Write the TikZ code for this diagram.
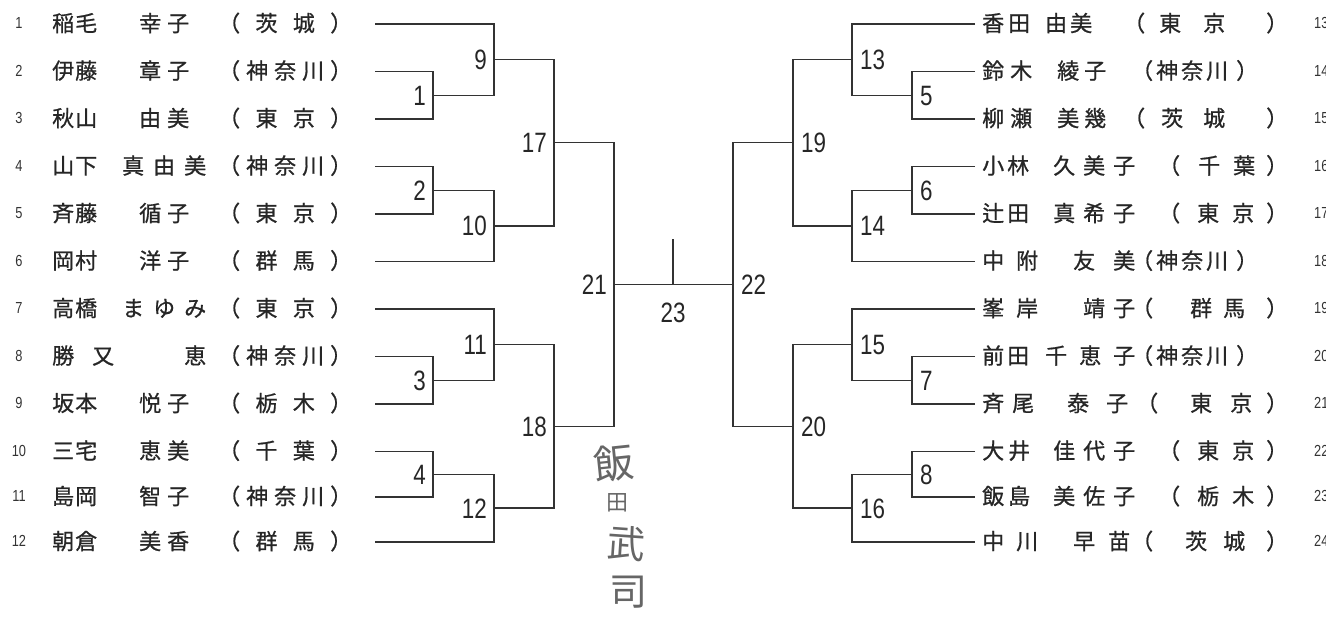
\documentclass[tikz,border=0pt]{standalone}
\usepackage{fontspec}
\setmainfont{Liberation Sans}
\newfontfamily\jpfont[FakeBold=0.8]{Noto Sans CJK JP}
\newfontfamily\signfont{Noto Sans CJK JP}
\newfontfamily\numfont[FakeStretch=0.8]{Liberation Sans}
\usepackage{tikz}
\usetikzlibrary{calc}

% name fields: surname, given name, prefecture
\newcommand\lname[3]{\makebox[45pt][s]{#1}\kern25pt\makebox[84pt][s]{#2}\kern12pt\makebox[134pt][s]{#3}}
\newcommand\rname[3]{\makebox[56pt][s]{#1}\kern7pt\makebox[90pt][s]{#2}\kern-12pt\makebox[165pt][s]{#3}}

\begin{document}
\begin{tikzpicture}[
  x=1pt, y=-1pt,
  bracket/.style={line width=1.3pt, black!80},
  entry/.style={anchor=west, inner sep=0pt, text height=19.4pt, text depth=2.6pt,
    font=\jpfont\fontsize{22pt}{22pt}\selectfont, text=black!85},
  seed/.style={inner sep=0pt, text height=11.5pt, text depth=0pt,
    font=\numfont\fontsize{16pt}{16pt}\selectfont, text=black!80},
  rnd/.style={inner sep=0pt, text height=20pt, text depth=0pt,
    font=\numfont\fontsize{28pt}{28pt}\selectfont, text=black!85},
  sign/.style={inner sep=0pt, text=black!60}
]
\useasboundingbox (0,0) rectangle (1326,620);

% Entry line ends
\foreach \i/\y in {1/24, 2/71.5, 3/119, 4/166.5, 5/214, 6/261.5, 7/309, 8/356.5, 9/404, 10/451.5, 11/497, 12/542} {
  \coordinate (L\i) at (375,\y);
  \node[seed] (s\i) at (19,\y-1) {\i};
}
\foreach \i/\y in {13/24, 14/71.5, 15/119, 16/166.5, 17/214, 18/261.5, 19/309, 20/356.5, 21/404, 22/451.5, 23/497, 24/542} {
  \coordinate (R\i) at (975,\y);
  \node[seed, anchor=west] (s\i) at (1314,\y-1) {\i};
}

% Left entries
\node[entry] (n1) at (52,23) {\lname{稲\hfil 毛}{\hfil 幸\kern6pt 子\hfil}{（\hfil 茨\hfil 城\hfil ）}};
\node[entry] (n2) at (52,70.5) {\lname{伊\hfil 藤}{\hfil 章\kern6pt 子\hfil}{（\hfil 神\hfil 奈\hfil 川\hfil ）}};
\node[entry] (n3) at (52,118) {\lname{秋\hfil 山}{\hfil 由\kern6pt 美\hfil}{（\hfil 東\hfil 京\hfil ）}};
\node[entry] (n4) at (52,165.5) {\lname{山\hfil 下}{真\hfil 由\hfil 美}{（\hfil 神\hfil 奈\hfil 川\hfil ）}};
\node[entry] (n5) at (52,213) {\lname{斉\hfil 藤}{\hfil 循\kern6pt 子\hfil}{（\hfil 東\hfil 京\hfil ）}};
\node[entry] (n6) at (52,260.5) {\lname{岡\hfil 村}{\hfil 洋\kern6pt 子\hfil}{（\hfil 群\hfil 馬\hfil ）}};
\node[entry] (n7) at (52,308) {\lname{高\hfil 橋}{ま\hfil ゆ\hfil み}{（\hfil 東\hfil 京\hfil ）}};
\node[entry] (n8) at (52,355.5) {\lname{勝\hfil 又\kern-17pt}{\hfil 恵}{（\hfil 神\hfil 奈\hfil 川\hfil ）}};
\node[entry] (n9) at (52,403) {\lname{坂\hfil 本}{\hfil 悦\kern6pt 子\hfil}{（\hfil 栃\hfil 木\hfil ）}};
\node[entry] (n10) at (52,450.5) {\lname{三\hfil 宅}{\hfil 恵\kern6pt 美\hfil}{（\hfil 千\hfil 葉\hfil ）}};
\node[entry] (n11) at (52,496) {\lname{島\hfil 岡}{\hfil 智\kern6pt 子\hfil}{（\hfil 神\hfil 奈\hfil 川\hfil ）}};
\node[entry] (n12) at (52,541) {\lname{朝\hfil 倉}{\hfil 美\kern6pt 香\hfil}{（\hfil 群\hfil 馬\hfil ）}};

% Right entries
\node[entry] (n13) at (982,23) {\rname{香\kern4pt 田\hfil}{由\kern3pt 美\hfil}{（\kern14pt 東\kern22pt 京\hfil ）}};
\node[entry] (n14) at (982,70.5) {\rname{鈴\kern6pt 木\hfil}{\kern12pt 綾\kern5pt 子\hfil}{\kern8pt（\kern3pt 神\kern3pt 奈\kern3pt 川\kern8pt ）\hfil}};
\node[entry] (n15) at (982,118) {\rname{柳\kern6pt 瀬\hfil}{\kern12pt 美\kern5pt 幾\hfil}{（\kern16pt 茨\kern20pt 城\hfil ）}};
\node[entry] (n16) at (982,165.5) {\rname{小\kern3pt 林\hfil}{\kern8pt 久\hfil 美\hfil 子}{\kern35pt（\kern18pt 千\kern13pt 葉\hfil ）}};
\node[entry] (n17) at (982,213) {\rname{辻\kern3pt 田\hfil}{\kern8pt 真\hfil 希\hfil 子}{\kern35pt（\kern17pt 東\kern13pt 京\hfil ）}};
\node[entry] (n18) at (982,260.5) {\rname{中\hfil 附}{\kern28pt 友\hfil 美}{\kern8pt（\kern3pt 神\kern3pt 奈\kern3pt 川\kern8pt ）\hfil}};
\node[entry] (n19) at (982,308) {\rname{峯\hfil 岸}{\hfil 靖\kern8pt 子}{\kern8pt（\kern37pt 群\kern11pt 馬\hfil ）}};
\node[entry] (n20) at (982,355.5) {\rname{前\kern3pt 田\hfil}{千\hfil 恵\hfil 子}{\kern8pt（\kern3pt 神\kern3pt 奈\kern3pt 川\kern8pt ）\hfil}};
\node[entry] (n21) at (982,403) {\rname{斉\kern8pt 尾\hfil}{\kern22pt 泰\hfil 子\kern7pt}{\kern13pt（\kern32pt 東\kern18pt 京\hfil ）}};
\node[entry] (n22) at (982,450.5) {\rname{大\kern4pt 井\hfil}{\kern8pt 佳\hfil 代\hfil 子}{\kern35pt（\kern17pt 東\kern13pt 京\hfil ）}};
\node[entry] (n23) at (982,496) {\rname{飯\kern4pt 島\hfil}{\kern8pt 美\hfil 佐\hfil 子}{\kern35pt（\kern17pt 栃\kern13pt 木\hfil ）}};
\node[entry] (n24) at (982,541) {\rname{中\hfil 川}{\kern28pt 早\hfil 苗\kern5pt}{\kern8pt（\kern32pt 茨\kern16pt 城\hfil ）}};

% Match points
\coordinate (m1) at (433,95.25);
\coordinate (m2) at (433,190.25);
\coordinate (m3) at (433,380.25);
\coordinate (m4) at (433,474.25);
\coordinate (m9) at (494,59.6);
\coordinate (m10) at (494,225.9);
\coordinate (m11) at (494,344.6);
\coordinate (m12) at (494,508.1);
\coordinate (m17) at (554,142.8);
\coordinate (m18) at (554,426.4);
\coordinate (m21) at (614,284.6);
\coordinate (m5) at (912,95.25);
\coordinate (m6) at (912,190.25);
\coordinate (m7) at (912,380.25);
\coordinate (m8) at (912,474.25);
\coordinate (m13) at (852,59.6);
\coordinate (m14) at (852,225.9);
\coordinate (m15) at (852,344.6);
\coordinate (m16) at (852,508.1);
\coordinate (m19) at (793,142.8);
\coordinate (m20) at (793,426.4);
\coordinate (m22) at (733,284.6);
\coordinate (m23) at (673,284.6);
\coordinate (top) at (673,239);

% Brackets
\foreach \m/\a/\b in {m1/L2/L3, m2/L4/L5, m3/L8/L9, m4/L10/L11, m9/L1/m1, m10/m2/L6,
    m11/L7/m3, m12/m4/L12, m17/m9/m10, m18/m11/m12, m21/m17/m18,
    m5/R14/R15, m6/R16/R17, m7/R20/R21, m8/R22/R23, m13/R13/m5, m14/m6/R18,
    m15/R19/m7, m16/m8/R24, m19/m13/m14, m20/m15/m16, m22/m19/m20}
  \draw[bracket] (\a) -| (\m) |- (\b);
\draw[bracket] (m21) -- (m22);
\draw[bracket] (m23) -- (top);

% Match numbers
\foreach \m/\t in {m1/1, m2/2, m3/3, m4/4, m9/9, m10/10, m11/11, m12/12, m17/17, m18/18, m21/21}
  \node[rnd, anchor=east, xshift=-7pt] (t\t) at (\m) {\t};
\foreach \m/\t in {m5/5, m6/6, m7/7, m8/8, m13/13, m14/14, m15/15, m16/16, m19/19, m20/20, m22/22}
  \node[rnd, anchor=west, xshift=8pt] (t\t) at (\m) {\t};
\node[rnd] (t23) at (673,313) {23};

% Signature
\node[sign, font=\signfont\fontsize{40pt}{40pt}\selectfont, rotate=6] (g1) at (614,463) {飯};
\node[sign, font=\signfont\fontsize{22pt}{22pt}\selectfont] (g2) at (617,503) {田};
\node[sign, font=\signfont\fontsize{38pt}{38pt}\selectfont, rotate=-4] (g3) at (626,544) {武};
\node[sign, font=\signfont\fontsize{38pt}{38pt}\selectfont] (g4) at (628,592) {司};

\end{tikzpicture}
\end{document}
